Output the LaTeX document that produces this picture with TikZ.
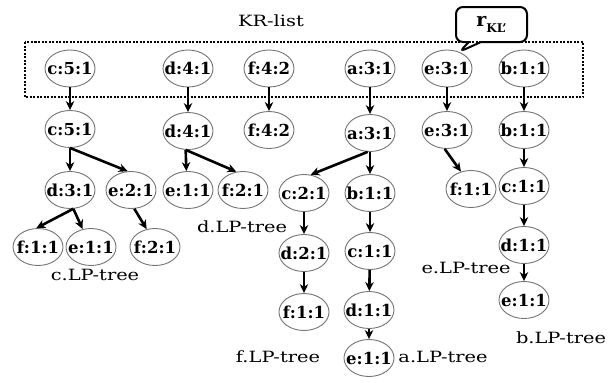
\documentclass[tikz,border=0pt]{standalone}
\usepackage{fontspec}
\setmainfont{DejaVu Serif}
\newfontfamily\labfont[FakeStretch=1.25]{DejaVu Serif}
\usetikzlibrary{shapes.geometric,shapes.callouts,arrows.meta}
\begin{document}
\begin{tikzpicture}[x=1pt,y=-1pt,
  nd/.style={ellipse,draw=black!55,line width=0.9pt,minimum width=50pt,minimum height=37pt,inner xsep=-9pt,inner ysep=0pt,font=\fontsize{16.5}{18}\selectfont\bfseries},
  arr/.style={line width=2.6pt,-{Stealth[length=9pt,width=8.5pt]}},
  lab/.style={font=\labfont\fontsize{15.5}{17}\selectfont,inner sep=0pt}]
\useasboundingbox (0,0) rectangle (608,383);
% KR-list
\node[lab] (krl) at (271,21) {KR-list};
\draw[line width=2pt,dash pattern=on 2pt off 1.5pt] (25,42) rectangle (583,97);
\node[nd] (kc) at (70,68.5) {c:5:1};
\node[nd] (kd) at (188,68.5) {d:4:1};
\node[nd] (kf) at (269,68.5) {f:4:2};
\node[nd] (ka) at (370,68.5) {a:3:1};
\node[nd] (ke) at (447,68.5) {e:3:1};
\node[nd] (kb) at (524,68.5) {b:1:1};
% callout
\node[rectangle callout,draw,line width=2pt,rounded corners=7pt,minimum width=71pt,minimum height=35pt,
  callout absolute pointer={(459,52)},callout pointer width=12pt,font=\fontsize{19}{20}\selectfont\bfseries] (rkl) at (491.5,24.5)
  {r\raisebox{-0.6ex}{\fontsize{12}{13}\selectfont KL'}};
% second row
\node[nd] (c0) at (70,129) {c:5:1};
\node[nd] (d0) at (188,131) {d:4:1};
\node[nd] (f0) at (269,130) {f:4:2};
\node[nd] (a0) at (370,133) {a:3:1};
\node[nd] (e0) at (447,130) {e:3:1};
\node[nd] (b0) at (524,130) {b:1:1};
\draw[arr] (kc) -- (c0);
\draw[arr] (kd) -- (d0);
\draw[arr] (kf) -- (f0);
\draw[arr] (ka) -- (a0);
\draw[arr] (ke) -- (e0);
\draw[arr] (kb) -- (b0);
% c tree
\node[nd] (cd) at (70,190) {d:3:1};
\node[nd] (ce) at (131,190) {e:2:1};
\node[nd] (cdf) at (38,247) {f:1:1};
\node[nd] (cde) at (91,247) {e:1:1};
\node[nd] (cef) at (155,247) {f:2:1};
\draw[arr] (c0.south) -- (cd.north);
\draw[arr] (c0.south) -- (ce.100);
\draw[arr] (cd.-80) -- (cdf.95);
\draw[arr] (cd.-80) -- (cde.115);
\draw[arr] (ce.-80) -- (cef.115);
\node[lab] (clab) at (95,275) {c.LP-tree};
% d tree
\node[nd] (de) at (188,190) {e:1:1};
\node[nd] (df) at (243,190) {f:2:1};
\draw[arr] (d0.-97) -- (de.95);
\draw[arr] (d0.-97) -- (df.110);
\node[lab] (dlab) at (242,227) {d.LP-tree};
% a tree
\node[nd] (ac) at (304,193) {c:2:1};
\node[nd] (ab) at (370,193) {b:1:1};
\node[nd] (acd) at (304,253) {d:2:1};
\node[nd] (acdf) at (304,312) {f:1:1};
\node[nd] (abc) at (370,251) {c:1:1};
\node[nd] (abcd) at (369,310) {d:1:1};
\node[nd] (abcde) at (369,358) {e:1:1};
\draw[arr] (a0.-97) -- (ac.70);
\draw[arr] (a0.south) -- (ab.north);
\draw[arr] (ac) -- (acd);
\draw[arr] (acd) -- (acdf);
\draw[arr] (ab) -- (abc);
\draw[arr] (abc) -- (abcd);
\draw[arr] (abcd) -- (abcde);
\node[lab] (flab) at (278,357) {f.LP-tree};
\node[lab] (alab) at (443,357) {a.LP-tree};
% e tree
\node[nd] (ef) at (471,189) {f:1:1};
\draw[arr] (e0.-97) -- (ef.120);
\node[lab] (elab) at (466,268) {e.LP-tree};
% b tree
\node[nd] (bc) at (524,186) {c:1:1};
\node[nd] (bd) at (524,245) {d:1:1};
\node[nd] (be) at (524,300) {e:1:1};
\draw[arr] (b0) -- (bc);
\draw[arr] (bc) -- (bd);
\draw[arr] (bd) -- (be);
\node[lab] (blab) at (561,338) {b.LP-tree};
\end{tikzpicture}
\end{document}
